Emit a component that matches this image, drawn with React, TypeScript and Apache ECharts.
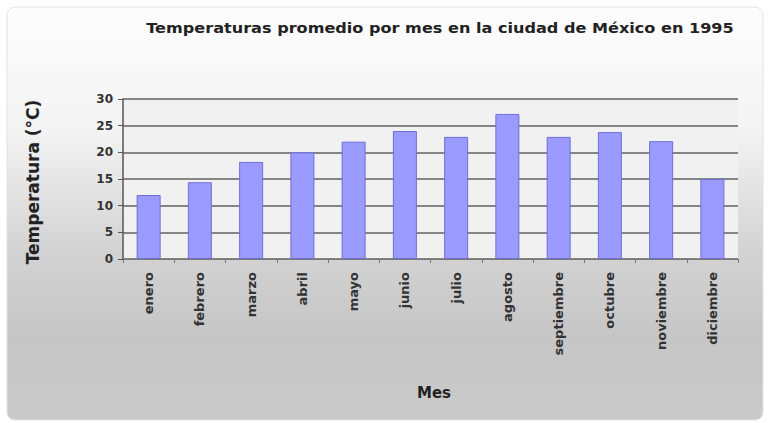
import React, { useEffect, useRef } from "react";
import * as echarts from "echarts";

const months = [
  "enero", "febrero", "marzo", "abril", "mayo", "junio",
  "julio", "agosto", "septiembre", "octubre", "noviembre", "diciembre",
];
const temperatures = [12, 14.4, 18.2, 20, 22, 24, 22.9, 27.2, 22.9, 23.8, 22.1, 15];
const yTicks = { min: 0, max: 30, interval: 5 };
const titleText = "Temperaturas promedio por mes en la ciudad de México en 1995";
const yName = "Temperatura (°C)";
const xName = "Mes";

const FONT = "DejaVu Sans";

export default function App() {
  const ref = useRef<HTMLDivElement>(null);
  useEffect(() => {
    if (!ref.current) return;
    const chart = echarts.init(ref.current, null, { renderer: "svg" });
    chart.setOption({
      animation: false,
      backgroundColor: "#ffffff",
      graphic: [
        {
          type: "rect",
          z: -10,
          shape: { x: 7, y: 7, width: 756, height: 413, r: 8 },
          style: {
            fill: new echarts.graphic.LinearGradient(0, 0, 0, 1, [
              { offset: 0, color: "#fdfdfd" },
              { offset: 0.3, color: "#f3f3f3" },
              { offset: 0.6, color: "#d2d2d2" },
              { offset: 0.8, color: "#c6c6c6" },
              { offset: 1, color: "#cacaca" },
            ]),
            stroke: "#e2e2e2",
            lineWidth: 1,
          },
        },
        {
          type: "text",
          x: 440,
          y: 28,
          scaleX: 1.15,
          style: {
            text: titleText,
            font: `bold 14px "${FONT}"`,
            fill: "#222",
            textAlign: "center",
            textVerticalAlign: "middle",
          },
        },
        {
          type: "text",
          x: 33,
          y: 182,
          rotation: Math.PI / 2,
          style: {
            text: yName,
            font: `bold 17px "${FONT}"`,
            fill: "#222",
            textAlign: "center",
            textVerticalAlign: "middle",
          },
        },
        {
          type: "text",
          x: 434,
          y: 393,
          style: {
            text: xName,
            font: `bold 15px "${FONT}"`,
            fill: "#222",
            textAlign: "center",
            textVerticalAlign: "middle",
          },
        },
      ],
      grid: {
        left: 123,
        right: 30,
        top: 99,
        bottom: 164,
        show: true,
        backgroundColor: "#f1f1f1",
        borderWidth: 0,
      },
      xAxis: {
        type: "category",
        data: months,
        axisLine: { show: true, lineStyle: { color: "#777", width: 1 } },
        axisTick: { show: true, alignWithLabel: false, length: 4, lineStyle: { color: "#777" } },
        axisLabel: {
          rotate: 90,
          interval: 0,
          margin: 13,
          fontFamily: FONT,
          fontWeight: "bold",
          fontSize: 13,
          color: "#333",
        },
      },
      yAxis: {
        type: "value",
        min: yTicks.min,
        max: yTicks.max,
        interval: yTicks.interval,
        axisLine: { show: true, lineStyle: { color: "#555", width: 1.5 } },
        axisTick: { show: true, length: 5, lineStyle: { color: "#555" } },
        axisLabel: {
          margin: 10,
          fontFamily: FONT,
          fontWeight: "bold",
          fontSize: 12,
          color: "#333",
        },
        splitLine: { show: true, lineStyle: { color: "#858585", width: 2 } },
      },
      series: [
        {
          type: "bar",
          data: temperatures,
          barWidth: 24,
          itemStyle: { color: "#9a9aff", borderColor: "#6f6fd8", borderWidth: 1 },
        },
      ],
    });
    return () => chart.dispose();
  }, []);
  return (
    <div
      ref={ref}
      style={{ position: "fixed", left: 0, top: 0, width: 768, height: 423 }}
    />
  );
}
